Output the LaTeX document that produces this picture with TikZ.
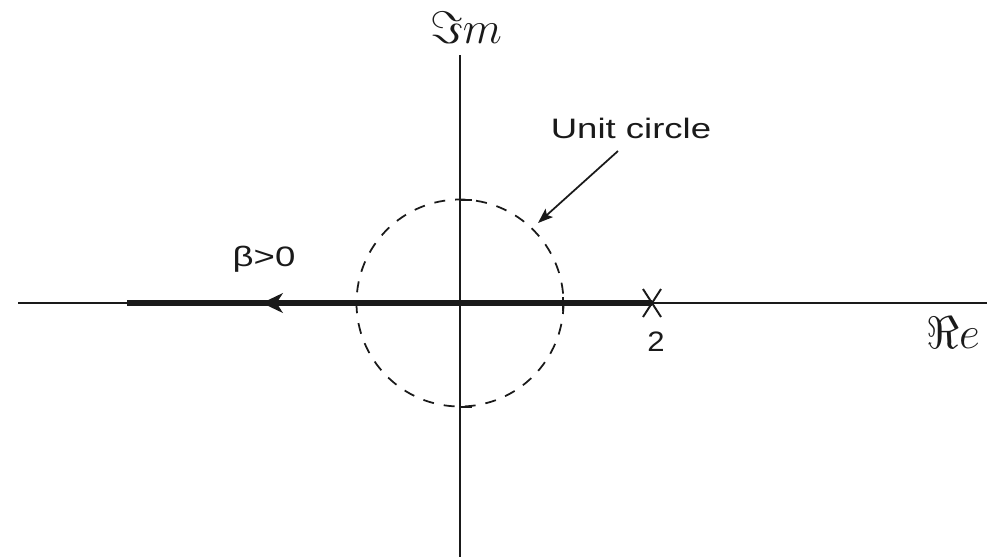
\documentclass[tikz,border=0pt]{standalone}
\usepackage{fontspec}
\setmainfont{Liberation Sans}
\usepackage{amsmath}
\usetikzlibrary{arrows.meta, positioning, calc}
\definecolor{InkBlack}{HTML}{1A1A1A}

\begin{document}
\begin{tikzpicture}[
  x=0.02cm, y=-0.02cm,
  axis/.style={line width=1.3pt, InkBlack},
  locus/.style={line width=3.2pt, InkBlack},
  unitc/.style={dash pattern=on 0.22cm off 0.2cm, line width=1pt, InkBlack},
  lbl/.style={font=\fontsize{16}{19}\selectfont, text=InkBlack, xscale=1.3, inner sep=0pt},
  axlbl/.style={font=\Large, text=InkBlack, scale=1.8, inner sep=0pt},
  pointer/.style={-{Stealth[length=0.3cm, width=0.22cm, inset=0.06cm]}, line width=1pt, InkBlack},
]
\useasboundingbox (0,0) rectangle (987,559);

% axes
\coordinate (origin) at (460,303);
\coordinate (xleft) at (18,303);
\coordinate (xright) at (987,303);
\coordinate (ytop) at (460,55);
\coordinate (ybot) at (460,557);
\draw[axis] (xleft) -- (xright);
\draw[axis] (ytop) -- (ybot);
\node[axlbl] (imlabel) at (466,28) {$\Im m$};
\node[axlbl] (relabel) at (953,333) {$\Re e$};

% unit circle and its intercepts
\draw[unitc] (origin) circle[radius=103.5];
\draw[axis] (460,200) -- (472,200);
\draw[axis] (460,407) -- (472,407);
\draw[axis] (563,297) -- (563,311);

% pole at 2
\coordinate (pole) at (652,303);
\draw[line width=1.1pt, InkBlack] ($(pole)+(-9,-14)$) -- ($(pole)+(9,14)$);
\draw[line width=1.1pt, InkBlack] ($(pole)+(9,-14)$) -- ($(pole)+(-9,14)$);
\node[lbl, xscale=0.85] (two) at (656,342) {2};

% root locus for beta > 0
\coordinate (betatip) at (262,303);
\coordinate (locusend) at (127,303);
\draw[locus] (pole) -- (locusend);
\draw[line width=1pt, InkBlack, -{Stealth[length=0.42cm, width=0.4cm, inset=0.13cm]}] (290,303) -- (betatip);
\node[lbl] (beta) at (264,259) {β>0};

% label of the circle
\node[lbl] (unitlabel) at (631,128) {Unit circle};
\coordinate (ptail) at (618,151);
\coordinate (ptip) at (538,223);
\draw[pointer] (ptail) -- (ptip);

\end{tikzpicture}
\end{document}
